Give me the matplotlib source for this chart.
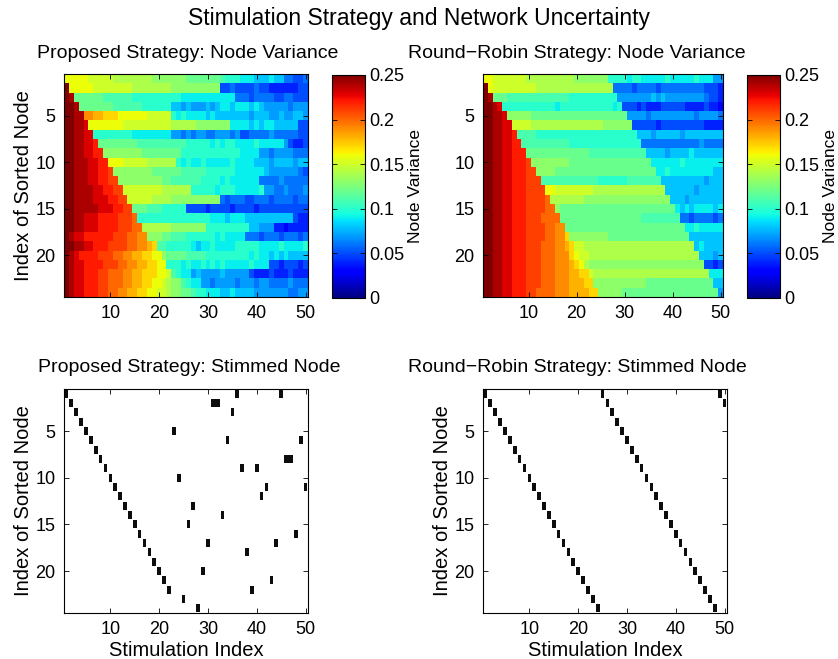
import numpy as np
import matplotlib
matplotlib.use("Agg")
import matplotlib.pyplot as plt
from matplotlib.patches import Rectangle

plt.rcParams['font.family'] = ['Liberation Sans', 'DejaVu Sans']

# one character per cell: index in LEVELS is the variance in hundredths (0.00 .. 0.25)
LEVELS = "0123456789abcdefghijklmnop"

proposed_variance_rows = [
    "ggggg" "fffff" "eeeeeeee" "ddddddd" "ccccccc" "baaa" "999888988" "66556",
    "p" "ggggg" "ffffffff" "eeeeeeee" "dddddddddd" "5565555655" "444444" "55",
    "po" "cccccc" "bbbbbb" "aaaaaaaaaa" "99999" "999999" "666566665566555",
    "ppo" "ccccccc" "bbbbbb" "aaaaaa" "8878777878" "99899989" "8777776777",
    "ppoo" "jjii" "hhh" "gggggg" "fffff" "a9a9999" "8988888" "88788877" "877887",
    "ppoon" "ggggggg" "ffffffffff" "eeeeeddddddd" "99998989988888" "55",
    "ppoonn" "aaaaaaaa" "99999999" "77676776677767" "55666676666655",
    "ppoonnm" "cccccccc" "bbbbbbbbbb" "aaaaa9a9aa9999a99999" "7" "5445",
    "ppoonnmm" "dddddddd" "cccccccc" "aaaaaaaaaaaa" "9999" "7767777666",
    "ppooonnmm" "ggg" "fffffeeeeee" "a9a99a99999a9999" "88878888788",
    "ppooonnmml" "dddddddd" "ccccccbbbbb" "aaaaaa999999" "87777776" "5",
    "ppooonnmmll" "ddddddddd" "ccbbbbbb" "aaaa9a999999" "6666766666",
    "ppoooonnmmll" "ffffffff" "eeeeee" "aaaaa9aaa99999a" "776676667",
    "ppoooonnnmmll" "fffffeeee" "dddddddddd" "656665566656666566",
    "ppooooonnnmmll" "cccbbb" "aaaaa" "5555455554555545555555555",
    "ppoonnnmmmmlllk" "aaaaaaaaaa" "aaaaa" "99989998888888888" "544",
    "ppoonnnmmmmlllkk" "eeeeeedddddd" "d" "aaaaaaaaa" "88777" "4434444",
    "po" "nnmmmmmm" "lllkk" "jj" "dddccbbbaaaa" "aa9a9999" "6665666566656",
    "ppoonnmmmllllkkjjih" "bbaaaaa" "9899a9999" "aaaaa9999a9999a",
    "ponmmmmlllkkjjiihhgg" "dccccbbbb" "aaaaaaaaa9a" "9989898888",
    "ponnmmmmlllkkjjiihhgg" "aaa9a99a9a9a99999a999" "55455545",
    "ponnmmmllkkkjjiihhhggf" "ba99" "787777877777" "544454445444",
    "ponnmmmllkkkjjiihhgg" "fedd" "ba99" "7767777677" "7677666676" "66",
    "ponnmmmllkkjjiihhgg" "ffeddc" "cbaa" "999889888877777776677",
]

round_robin_variance_rows = [
    "gg" "fffffff" "eeeeeeeeee" "ddddddd" "aaaa9aa99999a99999a999" "77",
    "p" "g" "fffffffff" "eeeeeeeeeeeeeeee" "6666566665666666666" "5554",
    "po" "ccc" "bbbbbbbbbbbbb" "aaaaaaaaaa" "777777787877777777" "6554",
    "ppon" "aaaaaaaaaaa9aaaaaaaaaaa9a" "555454445555544445443",
    "ppoon" "ddddd" "cccccccccccccccccccc" "77776" "77777" "77776" "77776",
    "ppoonn" "ffff" "eeeeeeeeeeeeeee" "dddddd" "55555" "45555" "55555" "4444",
    "ppoonnm" "bbbb" "aaaaaaa" "aaaaaaa" "aaaaaaa" "88878" "88887" "88888" "888",
    "ppoonnmm" "bbbbbbbbbb" "aaaaaaaaaaaaaaa" "66666" "66666" "66766" "66",
    "ppoonnmmm" "ccccccccccccc" "bbbbbbbbbbbb" "88887" "88889" "888888",
    "ppoonnmmml" "ddddddddcccccc" "c" "cccccccccc" "99999" "9a999" "99999",
    "ppoonnmmmll" "ddddcccccccc" "c" "cccccccccccc" "99a99" "99999" "9988",
    "ppoonnmmmlll" "bbbbbbbbbbbb" "aaaaaa" "bbbbbbb" "88888" "88887" "888",
    "ppoonnmmmllll" "gg" "ffffffff" "eeeeeeeeeeeeeee" "88888" "87888" "88",
    "ppoonnmmmllllk" "ee" "eeeeedddddd" "ddddddddddd" "d" "88878" "88888" "8",
    "ppoonnmmmllllkk" "d" "cccccccccc" "cccccccccc" "cccc" "98989" "99989",
    "ppoonnmmmlllkkkk" "c" "cccccccccc" "ccccccbbbb" "bb" "bb" "66566" "6656",
    "ppoonnmmmllllkkjj" "c" "cccccccccc" "cccccccccc" "cccc" "99a99999",
    "ppoonnmmmllllkkjjh" "d" "dddddddccc" "cccccccccc" "cccc" "8888888",
    "ppoonnmmmlllkkkjjih" "ff" "eeeeeeeeee" "eeeeeeeeee" "eee" "898888",
    "ppoonnmmmlllkkkjjjhg" "ff" "eeeeeeeeee" "eeeeeeeeee" "eee" "88878",
    "ppoonnmmmlllkkkjjjihg" "e" "dddddddddd" "dddddddddd" "dddd" "5545",
    "ppoonnmmmlllkkkjjjiihh" "f" "eeeeeeeeee" "eeeeeeeeee" "eeee" "999",
    "ppoonnmmmlllkkkjjjiiihh" "d" "dddddddddd" "cccccccccc" "cccc" "88",
    "ppoonnmmmllkkkkjjjiiiihh" "dddddccccc" "cccccccccc" "cccc" "c" "7",
]

# node stimulated at each stimulation index (1-based)
proposed_stim_node = [1, 2, 3, 4, 5, 6, 7, 8, 9, 10, 11, 12, 13, 14, 15, 16, 17,
                      18, 19, 20, 21, 22, 5, 10, 23, 15, 13, 24, 20, 17, 2, 2,
                      14, 6, 3, 1, 9, 18, 22, 9, 12, 11, 21, 17, 1, 8, 8, 16, 6, 11]
round_robin_stim_node = [1, 2, 3, 4, 5, 6, 7, 8, 9, 10, 11, 12, 13, 14, 15, 16, 17,
                         18, 19, 20, 21, 22, 23, 24, 1, 2, 3, 4, 5, 6, 7, 8, 9, 10,
                         11, 12, 13, 14, 15, 16, 17, 18, 19, 20, 21, 22, 23, 24, 1, 2]

n_nodes = 24
x_ticks = [10, 20, 30, 40, 50]
y_ticks = [5, 10, 15, 20]
cbar_ticks = [0, 0.05, 0.1, 0.15, 0.2, 0.25]
cbar_labels = ['0', '0.05', '0.1', '0.15', '0.2', '0.25']


def decode(rows):
    return np.array([[LEVELS.index(ch) / 100.0 for ch in row] for row in rows])


W, H = 838, 659
fig = plt.figure(figsize=(W / 100, H / 100), dpi=100)


def px_axes(l, t, r, b):
    return fig.add_axes([l / W, 1 - b / H, (r - l) / W, (b - t) / H])


def style(ax):
    ax.set_xticks(x_ticks)
    ax.set_yticks(y_ticks)
    ax.tick_params(direction='in', top=True, right=True, length=3.5,
                   width=0.6, labelsize=13, pad=6)
    for s in ax.spines.values():
        s.set_linewidth(0.8)


def heatmap(ax, cax, rows):
    n_cols = len(rows[0])
    im = ax.imshow(decode(rows), cmap='jet', vmin=0, vmax=0.25, aspect='auto',
                   interpolation='nearest',
                   extent=(0.5, n_cols + 0.5, n_nodes + 0.5, 0.5))
    style(ax)
    cb = fig.colorbar(im, cax=cax, ticks=cbar_ticks)
    cb.ax.set_yticklabels(cbar_labels)
    cb.ax.tick_params(direction='in', left=True, right=True, length=3.5,
                      width=0.6, labelsize=13, pad=3)
    cb.outline.set_linewidth(0.8)
    cb.set_label('Node Variance', fontsize=12.5, labelpad=3)


def stim_panel(ax, nodes):
    # one black dash per stimulation; repeated stims of a node merge into one block
    ax.set_xlim(0.5, len(nodes) + 0.5)
    ax.set_ylim(n_nodes + 0.5, 0.5)
    col = 0
    while col < len(nodes):
        end = col
        while end + 1 < len(nodes) and nodes[end + 1] == nodes[col]:
            end += 1
        ax.add_patch(Rectangle((col + 1 - 0.38, nodes[col] - 0.43),
                               end - col + 0.76, 0.86,
                               facecolor='#0d0d0d', edgecolor='none'))
        col = end + 1
    style(ax)


ax_tl = px_axes(64, 74, 308, 297)
ax_tr = px_axes(483, 74, 723, 297)
cax_tl = px_axes(332, 75, 365, 298)
cax_tr = px_axes(747, 75, 780, 298)
ax_bl = px_axes(64, 389, 308, 613)
ax_br = px_axes(483, 389, 727, 613)

heatmap(ax_tl, cax_tl, proposed_variance_rows)
heatmap(ax_tr, cax_tr, round_robin_variance_rows)
stim_panel(ax_bl, proposed_stim_node)
stim_panel(ax_br, round_robin_stim_node)

for ax in (ax_tl, ax_bl, ax_br):
    ax.set_ylabel('Index of Sorted Node', fontsize=14.5, labelpad=2)
for ax in (ax_bl, ax_br):
    ax.set_xlabel('Stimulation Index', fontsize=14.5, labelpad=2)

fig.text(419 / W, 1 - 18 / H, 'Stimulation Strategy and Network Uncertainty',
         ha='center', va='center', fontsize=16.5)
fig.text(188 / W, 1 - 54 / H, 'Proposed Strategy: Node Variance',
         ha='center', va='center', fontsize=14)
fig.text(577 / W, 1 - 54 / H, 'Round\u2212Robin Strategy: Node Variance',
         ha='center', va='center', fontsize=14)
fig.text(189 / W, 1 - 367 / H, 'Proposed Strategy: Stimmed Node',
         ha='center', va='center', fontsize=14)
fig.text(577 / W, 1 - 367 / H, 'Round\u2212Robin Strategy: Stimmed Node',
         ha='center', va='center', fontsize=14)

fig.savefig('out.png', dpi=100)
